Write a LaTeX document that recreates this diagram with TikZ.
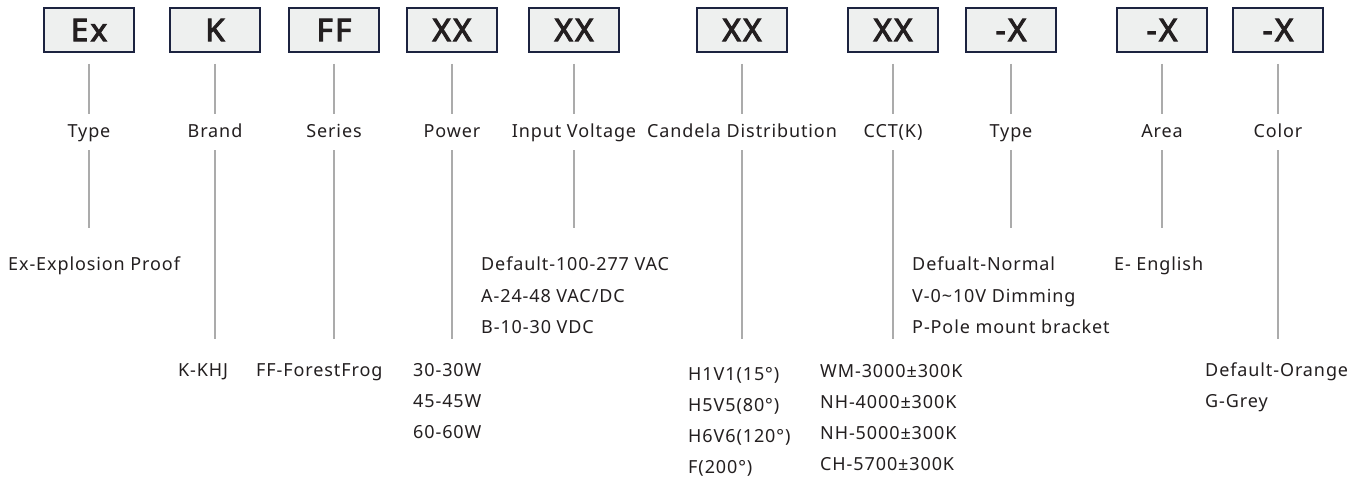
\documentclass[tikz,border=0pt]{standalone}
\usepackage{fontspec}
\setmainfont{Noto Sans}
\newfontfamily\codefont{Noto Sans}[FakeBold=3.5, LetterSpace=8]
\usepackage{tikz}
\usetikzlibrary{positioning}
\definecolor{box navy}{HTML}{1C2340}
\definecolor{box grey}{HTML}{EEF0EF}
\definecolor{line grey}{HTML}{ABABAB}
\definecolor{ink}{HTML}{231F20}

\tikzset{
	codebox/.style={draw=box navy, fill=box grey, line width=2pt,
		minimum width=90pt, minimum height=44pt, inner sep=0pt, text=ink,
		font=\codefont\fontsize{31}{31}\selectfont},
	fieldlabel/.style={inner sep=0pt, text height=12pt, text depth=4pt,
		anchor=base, text=ink,
		font=\fontsize{18}{31.3}\selectfont\addfontfeature{LetterSpace=5}},
	optionlist/.style={inner sep=0pt, anchor=base west, text=ink,
		font=\fontsize{18}{31.3}\selectfont\addfontfeature{LetterSpace=5}},
	link/.style={draw=line grey, line width=1.3pt}
}
\newcommand{\optrows}[1]{\begin{tabular}[t]{@{}l@{}}#1\end{tabular}}

\begin{document}
\begin{tikzpicture}[x=1pt, y=-1pt]
	\useasboundingbox[fill=white] (0, 0) rectangle (1365, 486);
	% code boxes
	\node[codebox] (ex) at (89, 30) {Ex};
	\node[codebox] (k) at (215, 30) {K};
	\node[codebox] (ff) at (334, 30) {FF};
	\node[codebox] (pw) at (452, 30) {XX};
	\node[codebox] (iv) at (574, 30) {XX};
	\node[codebox] (cd) at (742, 30) {XX};
	\node[codebox] (cct) at (893, 30) {XX};
	\node[codebox] (ty) at (1011, 30) {-X};
	\node[codebox] (ar) at (1162, 30) {-X};
	\node[codebox] (co) at (1278, 30) {-X};
	% field names
	\node[fieldlabel] (exlab) at (89, 137.5) {Type};
	\node[fieldlabel] (klab) at (215, 137.5) {Brand};
	\node[fieldlabel] (fflab) at (334, 137.5) {Series};
	\node[fieldlabel] (pwlab) at (452, 137.5) {Power};
	\node[fieldlabel] (ivlab) at (574, 137.5) {Input Voltage};
	\node[fieldlabel] (cdlab) at (742, 137.5) {Candela Distribution};
	\node[fieldlabel] (cctlab) at (893, 137.5) {CCT(K)};
	\node[fieldlabel] (tylab) at (1011, 137.5) {Type};
	\node[fieldlabel] (arlab) at (1162, 137.5) {Area};
	\node[fieldlabel] (colab) at (1278, 137.5) {Color};
	% options
	\node[optionlist] (exopt) at (8, 271) {\optrows{Ex-Explosion Proof}};
	\node[optionlist] (kopt) at (178, 376) {\optrows{K-KHJ}};
	\node[optionlist] (ffopt) at (256, 376) {\optrows{FF-ForestFrog}};
	\node[optionlist] (pwopt) at (413, 376) {\optrows{30-30W\\45-45W\\60-60W}};
	\node[optionlist] (ivopt) at (481, 271)
		{\optrows{Default-100-277 VAC\\A-24-48 VAC/DC\\B-10-30 VDC}};
	\node[optionlist] (cdopt) at (688, 380)
		{\optrows{H1V1(15°)\\H5V5(80°)\\H6V6(120°)\\F(200°)}};
	\node[optionlist] (cctopt) at (820, 377)
		{\optrows{WM-3000±300K\\NH-4000±300K\\NH-5000±300K\\CH-5700±300K}};
	\node[optionlist] (tyopt) at (912, 271)
		{\optrows{Defualt-Normal\\V-0\char`~10V Dimming\\P-Pole mount bracket}};
	\node[optionlist] (aropt) at (1114, 271) {\optrows{E- English}};
	\node[optionlist] (coopt) at (1205, 376) {\optrows{Default-Orange\\G-Grey}};
	% box to field name
	\begin{scope}[link, shorten <=11pt, shorten >=11.5pt]
		\draw (ex.south) -- (exlab.north);
		\draw (k.south) -- (klab.north);
		\draw (ff.south) -- (fflab.north);
		\draw (pw.south) -- (pwlab.north);
		\draw (iv.south) -- (ivlab.north);
		\draw (cd.south) -- (cdlab.north);
		\draw (cct.south) -- (cctlab.north);
		\draw (ty.south) -- (tylab.north);
		\draw (ar.south) -- (arlab.north);
		\draw (co.south) -- (colab.north);
	\end{scope}
	% field name to options
	\begin{scope}[link, shorten <=8.5pt]
		\draw[shorten >=21pt] (exlab.south) -- (exlab.south |- exopt.north);
		\draw[shorten >=15pt] (klab.south) -- (klab.south |- kopt.north);
		\draw[shorten >=15pt] (fflab.south) -- (fflab.south |- ffopt.north);
		\draw[shorten >=15pt] (pwlab.south) -- (pwlab.south |- pwopt.north);
		\draw[shorten >=21pt] (ivlab.south) -- (ivlab.south |- ivopt.north);
		\draw[shorten >=19pt] (cdlab.south) -- (cdlab.south |- cdopt.north);
		\draw[shorten >=16pt] (cctlab.south) -- (cctlab.south |- cctopt.north);
		\draw[shorten >=21pt] (tylab.south) -- (tylab.south |- tyopt.north);
		\draw[shorten >=21pt] (arlab.south) -- (arlab.south |- aropt.north);
		\draw[shorten >=15pt] (colab.south) -- (colab.south |- coopt.north);
	\end{scope}
\end{tikzpicture}
\end{document}
